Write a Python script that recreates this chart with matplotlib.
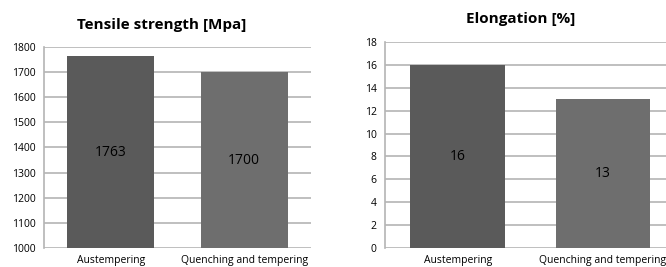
import matplotlib.pyplot as plt
from matplotlib.transforms import blended_transform_factory

categories = ['Austempering', 'Quenching and tempering']
tensile = [1763, 1700]
elongation = [16, 13]
bar_colors = ['#5a5a5a', '#6e6e6e']

plt.rcParams['font.family'] = ['Open Sans', 'DejaVu Sans']

W, H = 666, 267
fig = plt.figure(figsize=(W / 100, H / 100), dpi=100)


def px_axes(x0, x1, ytop, ybot):
    return fig.add_axes([x0 / W, 1 - ybot / H, (x1 - x0) / W, (ybot - ytop) / H])


def draw(ax, values, ymin, ymax, step):
    ax.bar(range(len(values)), [v - ymin for v in values], bottom=ymin,
           width=0.65, color=bar_colors, zorder=3)
    ax.set_xlim(-0.5, 1.5)
    ax.set_ylim(ymin, ymax)
    ax.set_yticks(range(ymin, ymax + 1, step))
    ax.yaxis.grid(True, color='#b4b4b4', linewidth=1.2, zorder=0)
    ax.tick_params(axis='y', length=0, labelsize=7.5, pad=6)
    ax.set_xticks([])
    for s in ['top', 'right', 'bottom']:
        ax.spines[s].set_visible(False)
    ax.spines['left'].set_color('#b4b4b4')
    ax.spines['left'].set_linewidth(1.2)
    # x in data units, y in figure units
    trans = blended_transform_factory(ax.transData, fig.transFigure)
    for i, v in enumerate(values):
        ax.text(i, (ymin + v) / 2, str(v), ha='center', va='center', fontsize=10, zorder=4)
        ax.text(i, 1 / H, categories[i], transform=trans,
                ha='center', va='bottom', fontsize=7.5)


ax1 = px_axes(44, 311, 47, 248)
draw(ax1, tensile, 1000, 1800, 100)
fig.text(162 / W, 1 - 25 / H, 'Tensile strength [Mpa]', ha='center', va='center',
         fontsize=11, fontweight='bold')

ax2 = px_axes(385, 675.5, 42, 248)
draw(ax2, elongation, 0, 18, 2)
fig.text(521 / W, 1 - 19 / H, 'Elongation [%]', ha='center', va='center',
         fontsize=11, fontweight='bold')

fig.savefig('out.png', dpi=100)
